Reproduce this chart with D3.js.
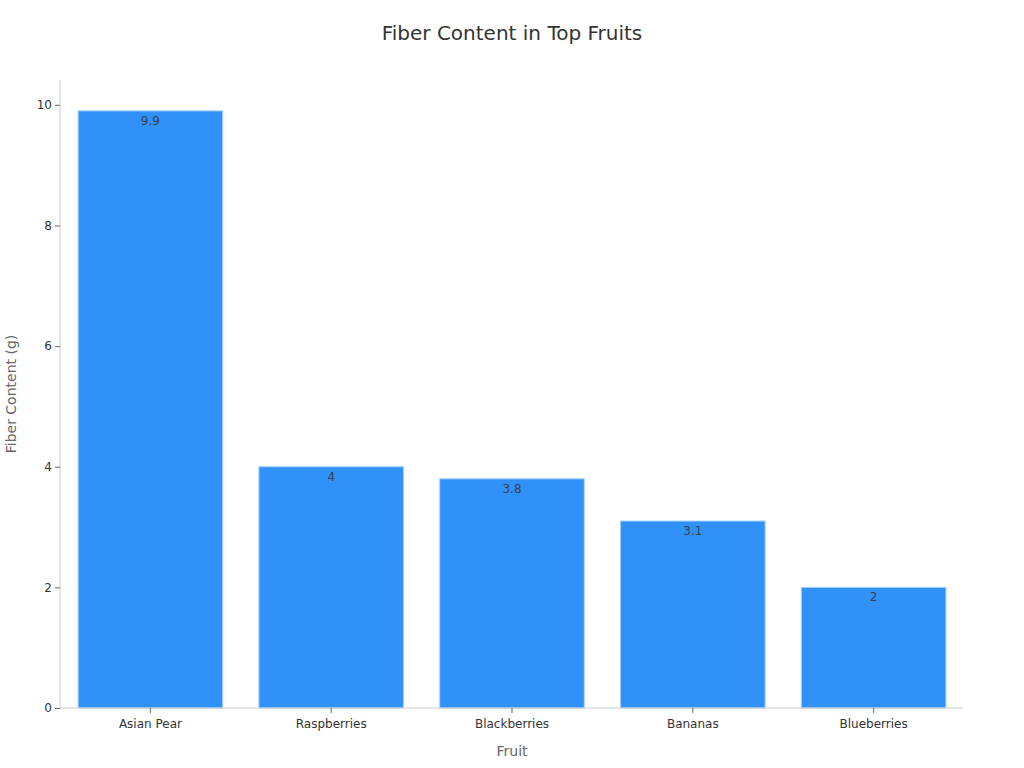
<!DOCTYPE html>
<html><head><meta charset="utf-8">
<script src="https://cdn.jsdelivr.net/npm/d3@7"></script>
<style>body{margin:0;background:#fff;font-family:"DejaVu Sans",sans-serif;}</style>
</head><body><svg id="c" width="1024" height="768"></svg>
<script>
const categories = ["Asian Pear","Raspberries","Blackberries","Bananas","Blueberries"];
const values = [9.9,4,3.8,3.1,2];
const yTicks = [0,2,4,6,8,10];

const svg = d3.select("#c");
const m = {left:60,right:60,top:81,bottom:60};
const W = 1024, H = 768;
const x = d3.scaleBand().domain(categories).range([m.left, W-m.right]).paddingInner(0.2).paddingOuter(0.1);
const y = d3.scaleLinear().domain([0, d3.max(values)*1.05]).range([H-m.bottom, m.top]);

svg.append("text").attr("x",512).attr("y",40).attr("text-anchor","middle")
  .attr("font-size",20).attr("fill","#333").text("Fiber Content in Top Fruits");

svg.selectAll("rect.bar").data(values).enter().append("rect").attr("class","bar")
  .attr("x",(d,i)=>x(categories[i])).attr("width",x.bandwidth())
  .attr("y",d=>y(d)).attr("height",d=>y(0)-y(d))
  .attr("fill","#3092f8").attr("stroke","#a9d2fb").attr("stroke-width",1);

svg.selectAll("text.val").data(values).enter().append("text").attr("class","val")
  .attr("x",(d,i)=>x(categories[i])+x.bandwidth()/2).attr("y",d=>y(d)+14)
  .attr("text-anchor","middle").attr("font-size",12).attr("fill","#3a3f4a").text(d=>d);

const ya = svg.append("g").attr("transform",`translate(${m.left},0)`)
  .call(d3.axisLeft(y).tickValues(yTicks).tickSize(5).tickPadding(3).tickSizeOuter(0));
ya.select(".domain").attr("d",`M0,${H-m.bottom}V${m.top-1}`);
const xa = svg.append("g").attr("transform",`translate(0,${H-m.bottom})`)
  .call(d3.axisBottom(x).tickSize(5).tickPadding(6).tickSizeOuter(0));
xa.select(".domain").attr("d",`M${m.left},0H${W-m.right-1}`);
[ya,xa].forEach(a=>{
  a.select(".domain").attr("stroke","#ccc");
  a.selectAll(".tick line").attr("stroke","#666");
  a.selectAll(".tick text").attr("fill","#333").attr("font-size",12).attr("font-family","DejaVu Sans, sans-serif");
});

svg.append("text").attr("x",512).attr("y",756).attr("text-anchor","middle")
  .attr("font-size",14).attr("fill","#666").text("Fruit");
svg.append("text").attr("transform","translate(16,394) rotate(-90)").attr("text-anchor","middle")
  .attr("font-size",14).attr("fill","#666").text("Fiber Content (g)");
</script></body></html>
